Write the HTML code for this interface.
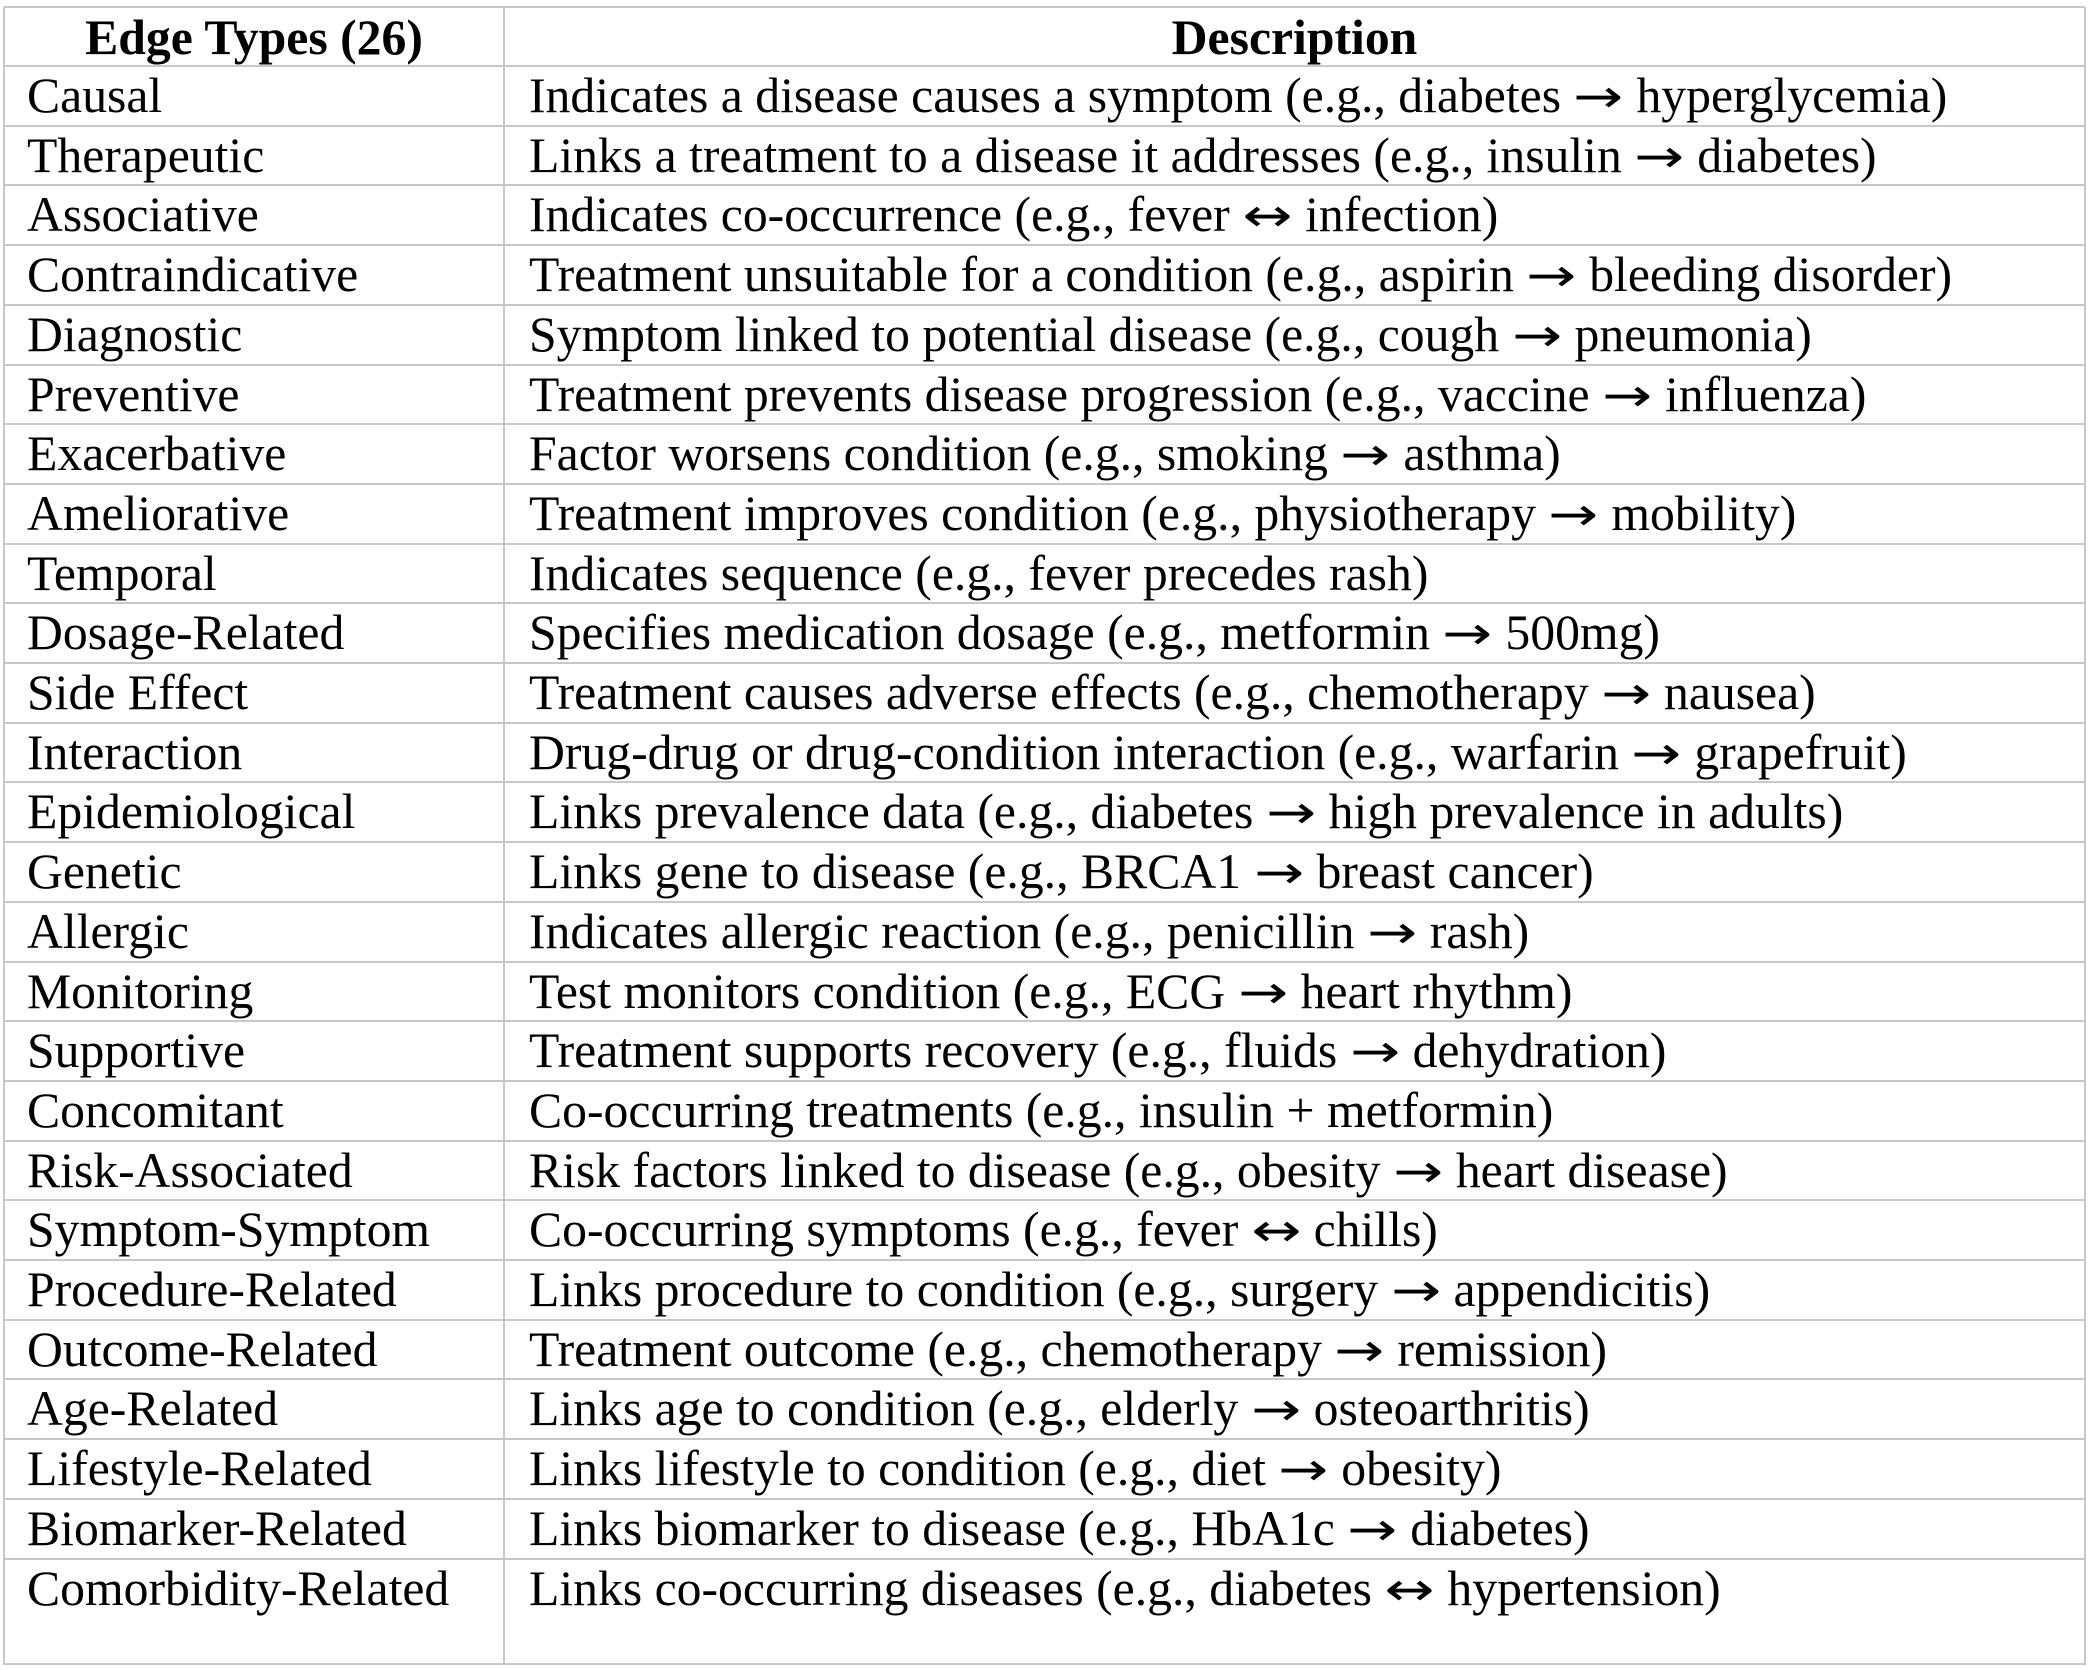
<!DOCTYPE html>
<html><head><meta charset="utf-8"><style>
html,body{margin:0;padding:0;background:#fff;}
#wrap{position:relative;width:2089px;height:1670px;overflow:hidden;font-family:"Liberation Serif","Times New Roman",serif;color:#000;}
.hl{position:absolute;left:4px;width:2081px;height:2px;background:#c8c8c8;}
.vl{position:absolute;top:7px;width:2px;height:1658px;background:#c8c8c8;}
.cell{position:absolute;font-size:49.7px;line-height:60px;white-space:nowrap;}
.hd{font-weight:bold;text-align:center;}
.ar{font-family:"DejaVu Sans",sans-serif;font-size:46px;display:inline-block;transform:scaleX(1.3);margin:0 6px;}
</style></head><body>
<div id="wrap">
<div class="hl" style="top:6px"></div>
<div class="hl" style="top:1663px"></div>
<div class="vl" style="left:3px"></div>
<div class="vl" style="left:503px"></div>
<div class="vl" style="left:2084px"></div>
<div class="cell hd" style="left:5px;width:498px;top:8px">Edge Types (26)</div>
<div class="cell hd" style="left:505px;width:1579px;top:8px">Description</div>
</div>
<script>
const names=["Causal","Therapeutic","Associative","Contraindicative","Diagnostic","Preventive","Exacerbative","Ameliorative","Temporal","Dosage-Related","Side Effect","Interaction","Epidemiological","Genetic","Allergic","Monitoring","Supportive","Concomitant","Risk-Associated","Symptom-Symptom","Procedure-Related","Outcome-Related","Age-Related","Lifestyle-Related","Biomarker-Related","Comorbidity-Related"];
const descs=["Indicates a disease causes a symptom (e.g., diabetes → hyperglycemia)","Links a treatment to a disease it addresses (e.g., insulin → diabetes)","Indicates co-occurrence (e.g., fever ↔ infection)","Treatment unsuitable for a condition (e.g., aspirin → bleeding disorder)","Symptom linked to potential disease (e.g., cough → pneumonia)","Treatment prevents disease progression (e.g., vaccine → influenza)","Factor worsens condition (e.g., smoking → asthma)","Treatment improves condition (e.g., physiotherapy → mobility)","Indicates sequence (e.g., fever precedes rash)","Specifies medication dosage (e.g., metformin → 500mg)","Treatment causes adverse effects (e.g., chemotherapy → nausea)","Drug-drug or drug-condition interaction (e.g., warfarin → grapefruit)","Links prevalence data (e.g., diabetes → high prevalence in adults)","Links gene to disease (e.g., BRCA1 → breast cancer)","Indicates allergic reaction (e.g., penicillin → rash)","Test monitors condition (e.g., ECG → heart rhythm)","Treatment supports recovery (e.g., fluids → dehydration)","Co-occurring treatments (e.g., insulin + metformin)","Risk factors linked to disease (e.g., obesity → heart disease)","Co-occurring symptoms (e.g., fever ↔ chills)","Links procedure to condition (e.g., surgery → appendicitis)","Treatment outcome (e.g., chemotherapy → remission)","Links age to condition (e.g., elderly → osteoarthritis)","Links lifestyle to condition (e.g., diet → obesity)","Links biomarker to disease (e.g., HbA1c → diabetes)","Links co-occurring diseases (e.g., diabetes ↔ hypertension)"];
const wrap=document.getElementById('wrap');
const rowH=59.7, top0=66;
for(let i=0;i<names.length;i++){
  const y=top0+i*rowH;
  const line=document.createElement('div');
  line.className='hl';
  line.style.top=(y-1)+'px';
  
  
  wrap.appendChild(line);
  const a=document.createElement('div');
  a.className='cell';
  a.style.left='27px';a.style.top=y+'px';
  a.textContent=names[i];
  
  
  wrap.appendChild(a);
  const b=document.createElement('div');
  b.className='cell';
  b.style.left='529px';b.style.top=y+'px';
  b.innerHTML=descs[i].replace(/([→↔])/g,'<span class="ar">$1</span>');
  
  
  wrap.appendChild(b);
}
</script>
</body></html>
